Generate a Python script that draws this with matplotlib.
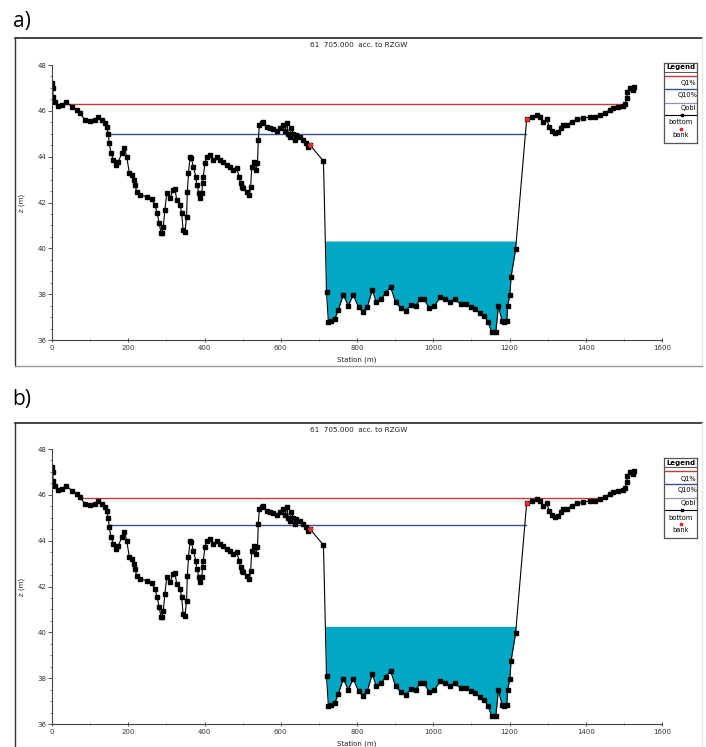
import matplotlib
matplotlib.use('Agg')
import matplotlib.pyplot as plt
from matplotlib.lines import Line2D
from matplotlib.ticker import MultipleLocator
import numpy as np

# station (m) and bottom elevation z (m), same section in both panels
station = [0, 2, 3, 8, 17, 25, 38, 52, 65, 73, 87, 100, 113, 121, 130, 139, 143, 148, 150, 155,
           161, 167, 174, 183, 190, 196, 203, 209, 215, 218, 222, 231, 248, 261, 270, 276, 281, 286,
           289, 292, 296, 301, 310, 317, 323, 327, 336, 340, 344, 349, 353, 355, 358, 362, 365, 371,
           377, 380, 386, 388, 393, 395, 397, 401, 406, 414, 423, 432, 440, 449, 458, 467, 476, 484,
           491, 495, 498, 502, 511, 518, 521, 524, 529, 535, 539, 541, 544, 550, 554, 563, 572, 580,
           589, 598, 605, 611, 616, 620, 624, 628, 633, 637, 641, 650, 659, 666, 672, 677, 712, 720,
           725, 733, 742, 751, 764, 777, 790, 804, 815, 827, 840, 850, 862, 876, 888, 901, 915, 928,
           942, 955, 965, 976, 990, 1003, 1018, 1031, 1044, 1057, 1072, 1086, 1098, 1109, 1123, 1133,
           1144, 1153, 1164, 1171, 1180, 1186, 1193, 1195, 1201, 1204, 1216, 1245, 1258, 1271, 1280,
           1289, 1298, 1304, 1311, 1319, 1328, 1334, 1341, 1350, 1363, 1376, 1394, 1411, 1424, 1437,
           1450, 1464, 1472, 1485, 1497, 1503, 1507, 1509, 1516, 1523, 1527]
bottom = [47.2, 47.0, 46.6, 46.4, 46.2, 46.26, 46.4, 46.18, 46.04, 45.9, 45.6, 45.57, 45.6, 45.72,
          45.6, 45.48, 45.3, 45.0, 44.58, 44.15, 43.86, 43.64, 43.78, 44.15, 44.4, 44.0, 43.27, 43.2,
          42.98, 42.76, 42.47, 42.33, 42.25, 42.14, 41.9, 41.53, 41.09, 40.68, 40.68, 40.95, 41.67,
          42.4, 42.18, 42.55, 42.58, 42.1, 41.9, 41.53, 40.8, 40.73, 41.38, 42.47, 43.27, 44.0, 43.95,
          43.56, 43.13, 42.76, 42.4, 42.18, 42.4, 42.84, 43.13, 43.71, 44.0, 44.07, 43.86, 44.0, 43.86,
          43.78, 43.64, 43.56, 43.42, 43.49, 43.13, 42.84, 42.69, 42.62, 42.47, 42.33, 42.69, 43.56,
          43.78, 43.42, 43.71, 44.73, 45.38, 45.45, 45.53, 45.3, 45.24, 45.2, 45.13, 45.24, 45.38, 45.1,
          45.45, 45.0, 44.87, 45.24, 45.0, 44.73, 44.94, 44.87, 44.73, 44.58, 44.44, 44.5, 43.81, 38.1,
          36.77, 36.83, 36.93, 37.31, 37.97, 37.49, 37.97, 37.43, 37.24, 37.43, 38.18, 37.67, 37.77,
          38.07, 38.3, 37.67, 37.38, 37.28, 37.53, 37.49, 37.77, 37.77, 37.38, 37.49, 37.86, 37.77,
          37.67, 37.77, 37.56, 37.57, 37.46, 37.34, 37.16, 37.05, 36.8, 36.34, 36.34, 37.49, 36.85,
          36.77, 36.85, 37.49, 37.97, 38.74, 39.96, 45.64, 45.72, 45.82, 45.75, 45.53, 45.63, 45.3,
          45.1, 45.03, 45.06, 45.24, 45.38, 45.38, 45.53, 45.63, 45.67, 45.74, 45.72, 45.82, 45.92,
          46.04, 46.11, 46.18, 46.22, 46.31, 46.55, 46.84, 46.98, 46.91, 47.02]

bank_sta = [677, 1245]
bank_z = [44.5, 45.64]

# water levels per panel: Q1%, Q10%, Qobl (filled)
q1_level = {'a': 46.28, 'b': 45.85}
q1_span = {'a': (16, 1507), 'b': (76, 1451)}
q10_level = {'a': 44.97, 'b': 44.67}
q10_span = {'a': (150, 1242), 'b': (150, 1242)}
qobl_level = {'a': 40.32, 'b': 40.26}

W, H = 706, 747
RED = '#c63d3a'
BLUE = '#3d4d9e'
LILAC = '#9a8fb5'
WATER = '#00a8c4'

fig = plt.figure(figsize=(W / 100, H / 100), dpi=100)
fig.patch.set_facecolor('white')


def fx(px):
    return px / W


def fy(py):
    return 1 - py / H


def frame(top, bottom_px):
    fig.add_artist(Line2D([fx(15), fx(702)], [fy(top), fy(top)], color='#222222', lw=1.2))
    fig.add_artist(Line2D([fx(15), fx(15)], [fy(top), fy(bottom_px)], color='#333333', lw=1.0))
    fig.add_artist(Line2D([fx(702), fx(702)], [fy(top), fy(bottom_px)], color='#e4e8e8', lw=1.0))
    if bottom_px < H:
        fig.add_artist(Line2D([fx(15), fx(702)], [fy(bottom_px), fy(bottom_px)], color='#9a9a9a', lw=1.0))


def legend_box(x0, y0):
    lg = fig.add_axes([fx(x0), fy(y0 + 80), 33 / W, 80 / H])
    lg.set_xlim(0, 33)
    lg.set_ylim(80, 0)
    lg.set_xticks([])
    lg.set_yticks([])
    for s in lg.spines.values():
        s.set_color('#555555')
        s.set_linewidth(0.9)
    lg.text(16.5, 4.5, 'Legend', ha='center', va='center', fontsize=5, fontweight='bold')
    lg.plot([0, 33], [9, 9], color='#555555', lw=0.7)
    lg.plot([1, 32], [13, 13], color=RED, lw=1.0)
    lg.text(32, 20.5, 'Q1%', ha='right', va='center', fontsize=4.8)
    lg.plot([1, 32], [26, 26], color=BLUE, lw=1.0)
    lg.text(33, 32, 'Q10%', ha='right', va='center', fontsize=4.8)
    lg.plot([1, 32], [39.5, 39.5], color=LILAC, lw=0.9)
    lg.text(32, 45, 'Qobl', ha='right', va='center', fontsize=4.8)
    lg.plot([1, 32], [51.5, 51.5], color='black', lw=0.8)
    lg.plot([18], [51.5], 's', color='black', ms=1.8)
    lg.text(16.5, 59.5, 'bottom', ha='center', va='center', fontsize=4.8)
    lg.plot([16.5], [65.5], 'o', color='#e03030', ms=1.8)
    lg.text(16.5, 72, 'bank', ha='center', va='center', fontsize=4.8)


def panel(key, ax_top, frame_top, frame_bottom, legend_y):
    frame(frame_top, frame_bottom)
    ax = fig.add_axes([fx(52), fy(ax_top + 275), 610 / W, 275 / H])
    sta = np.array(station)
    z = np.array(bottom)
    ax.fill_between(sta, z, qobl_level[key], where=z < qobl_level[key],
                    interpolate=True, color=WATER, lw=0)
    x1, x2 = q1_span[key]
    ax.plot([x1, x2], [q1_level[key]] * 2, color=RED, lw=1.0)
    x1, x2 = q10_span[key]
    ax.plot([x1, x2], [q10_level[key]] * 2, color=BLUE, lw=1.0)
    ax.plot(sta, z, color='black', lw=0.8, marker='s', ms=2.4, mec='black', mfc='black')
    ax.plot(bank_sta, bank_z, 'o', color='#e03030', ms=2.6, zorder=5)

    ax.set_xlim(0, 1600)
    ax.set_ylim(36, 48)
    ax.xaxis.set_major_locator(MultipleLocator(200))
    ax.xaxis.set_minor_locator(MultipleLocator(100))
    ax.yaxis.set_major_locator(MultipleLocator(2))
    ax.yaxis.set_minor_locator(MultipleLocator(0.5))
    ax.tick_params(axis='y', which='major', direction='out', length=3, width=0.6,
                   labelsize=5, colors='#333333', pad=1)
    ax.tick_params(axis='y', which='minor', direction='out', length=1.5, width=0.5, colors='#555555')
    ax.tick_params(axis='x', which='major', direction='inout', length=3, width=0.6,
                   labelsize=5, colors='#333333', pad=2)
    ax.tick_params(axis='x', which='minor', direction='inout', length=2, width=0.5, colors='#555555')
    for s in ['top', 'right']:
        ax.spines[s].set_visible(False)
    for s in ['left', 'bottom']:
        ax.spines[s].set_color('#444444')
        ax.spines[s].set_linewidth(0.8)

    fig.text(fx(359), fy(frame_top + 7), '61  705.000  acc. to RZGW', ha='center', va='center',
             fontsize=5.2, color='#222222')
    fig.text(fx(357), fy(ax_top + 295), 'Station (m)', ha='center', va='center', fontsize=5, color='#222222')
    fig.text(fx(22), fy(ax_top + 138), 'z (m)', ha='center', va='center', rotation=90, fontsize=5,
             color='#222222')
    legend_box(664, legend_y)
    return ax


fig.text(fx(13), fy(21), 'a)', ha='left', va='center', fontsize=15, family='Open Sans')
fig.text(fx(12), fy(400), 'b)', ha='left', va='center', fontsize=15, family='Open Sans')

panel('a', 65, 38, 366, 63)
panel('b', 449, 423, H + 5, 458)

fig.savefig('out.png', dpi=100)
